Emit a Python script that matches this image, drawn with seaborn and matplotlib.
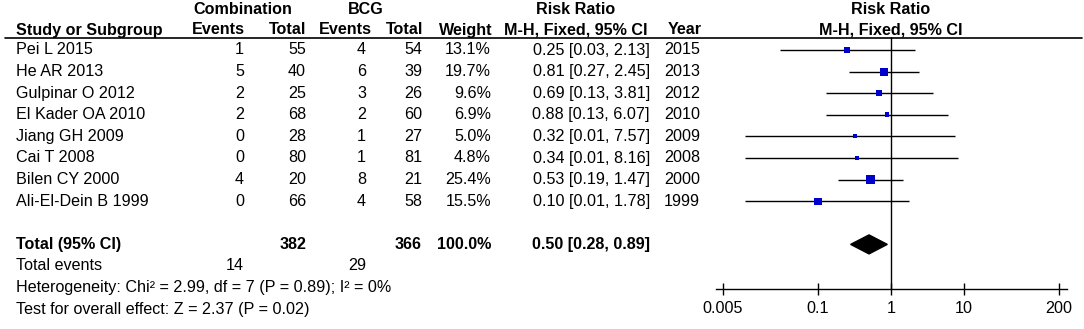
import numpy as np
import pandas as pd
import matplotlib
matplotlib.use('Agg')
import matplotlib.pyplot as plt
import seaborn as sns

# Study data
studies = ["Pei L 2015", "He AR 2013", "Gulpinar O 2012", "El Kader OA 2010",
           "Jiang GH 2009", "Cai T 2008", "Bilen CY 2000", "Ali-El-Dein B 1999"]
comb_events = [1, 5, 2, 2, 0, 0, 4, 0]
comb_total = [55, 40, 25, 68, 28, 80, 20, 66]
bcg_events = [4, 6, 3, 2, 1, 1, 8, 4]
bcg_total = [54, 39, 26, 60, 27, 81, 21, 58]
weight = [13.1, 19.7, 9.6, 6.9, 5.0, 4.8, 25.4, 15.5]
rr = [0.25, 0.81, 0.69, 0.88, 0.32, 0.34, 0.53, 0.10]
rr_lo = [0.03, 0.27, 0.13, 0.13, 0.01, 0.01, 0.19, 0.01]
rr_hi = [2.13, 2.45, 3.81, 6.07, 7.57, 8.16, 1.47, 1.78]
year = [2015, 2013, 2012, 2010, 2009, 2008, 2000, 1999]

# Pooled result
total_comb, total_bcg = 382, 366
events_comb, events_bcg = 14, 29
total_rr, total_lo, total_hi = 0.50, 0.28, 0.89
heterogeneity = "Heterogeneity: Chi\u00b2 = 2.99, df = 7 (P = 0.89); I\u00b2 = 0%"
overall = "Test for overall effect: Z = 2.37 (P = 0.02)"

axis_ticks = [0.005, 0.1, 1, 10, 200]
axis_labels = ["0.005", "0.1", "1", "10", "200"]

sns.set_style("white")
plt.rcParams['font.family'] = ['Liberation Sans', 'DejaVu Sans']
FS = 11.6

# row positions in pixels from top
row_y = [50 + 21.6 * i for i in range(len(studies))]
y_total = 50 + 21.6 * 9
y_events = 50 + 21.6 * 10
y_het = 50 + 21.6 * 11
y_test = 50 + 21.6 * 12

df = pd.DataFrame({"study": studies, "rr": rr, "lo": rr_lo, "hi": rr_hi,
                   "weight": weight, "y": row_y})

fig = plt.figure(figsize=(10.84, 3.29), dpi=100)

# text layer in pixel coordinates
tx = fig.add_axes([0, 0, 1, 1])
tx.set_xlim(0, 1084)
tx.set_ylim(329, 0)
tx.axis('off')

def put(x, y, s, ha='right', bold=False):
    tx.text(x, y, s, ha=ha, va='center', fontsize=FS,
            fontweight='bold' if bold else 'normal', color='black')

# headers
put(243, 10, "Combination", ha='center', bold=True)
put(366, 10, "BCG", ha='center', bold=True)
put(576, 10, "Risk Ratio", ha='center', bold=True)
put(891, 10, "Risk Ratio", ha='center', bold=True)
put(16, 30, "Study or Subgroup", ha='left', bold=True)
put(245, 30, "Events", bold=True)
put(306, 30, "Total", bold=True)
put(372, 30, "Events", bold=True)
put(423, 30, "Total", bold=True)
put(493, 30, "Weight", bold=True)
put(647, 30, "M-H, Fixed, 95% CI", bold=True)
put(702, 30, "Year", bold=True)
put(891, 30, "M-H, Fixed, 95% CI", ha='center', bold=True)
tx.plot([5, 1082], [37.5, 37.5], color='black', lw=1.2)

# study rows
for i, y in enumerate(row_y):
    put(16, y, studies[i], ha='left')
    put(244, y, str(comb_events[i]))
    put(306, y, str(comb_total[i]))
    put(366, y, str(bcg_events[i]))
    put(422, y, str(bcg_total[i]))
    put(491, y, f"{weight[i]:.1f}%")
    put(650, y, f"{rr[i]:.2f} [{rr_lo[i]:.2f}, {rr_hi[i]:.2f}]")
    put(700, y, str(year[i]))

# totals
put(16, y_total, "Total (95% CI)", ha='left', bold=True)
put(306, y_total, str(total_comb), bold=True)
put(422, y_total, str(total_bcg), bold=True)
put(491, y_total, "100.0%", bold=True)
put(650, y_total, f"{total_rr:.2f} [{total_lo:.2f}, {total_hi:.2f}]", bold=True)
put(16, y_events, "Total events", ha='left')
put(244, y_events, str(events_comb))
put(366, y_events, str(events_bcg))
put(16, y_het, heterogeneity, ha='left')
put(16, y_test, overall, ha='left')

# forest panel
px_dec = 73.0
fx = fig.add_axes([716 / 1084, (329 - 289) / 329, 351 / 1084, (289 - 37) / 329])
fx.patch.set_alpha(0)
fx.set_xscale('log')
fx.set_xlim(0.005 * 10 ** (-7 / px_dec), 200 * 10 ** (8 / px_dec))
fx.set_ylim(289, 37)

fx.hlines(df["y"], df["lo"], df["hi"], color='black', lw=1)
sns.scatterplot(data=df, x="rr", y="y", size="weight",
                sizes=(1.68 * min(weight), 1.68 * max(weight)),
                size_norm=(min(weight), max(weight)),
                marker='s', color='#0000cc', edgecolor='none',
                legend=False, ax=fx, zorder=3)
fx.axvline(1, color='black', lw=1)

# pooled diamond
dh = 9.5
fx.fill([total_lo, total_rr, total_hi, total_rr],
        [y_total, y_total - dh, y_total, y_total + dh],
        color='black', zorder=3)

for side in ['top', 'right', 'left']:
    fx.spines[side].set_visible(False)
fx.spines['bottom'].set_color('black')
fx.spines['bottom'].set_linewidth(1)
fx.set_xticks(axis_ticks)
fx.set_xticklabels(axis_labels)
fx.minorticks_off()
fx.set_yticks([])
fx.tick_params(axis='x', direction='inout', length=9, width=1,
               labelsize=FS, pad=4, colors='black', bottom=True)
fx.set_xlabel("")
fx.set_ylabel("")

fig.savefig("out.png", dpi=100)
